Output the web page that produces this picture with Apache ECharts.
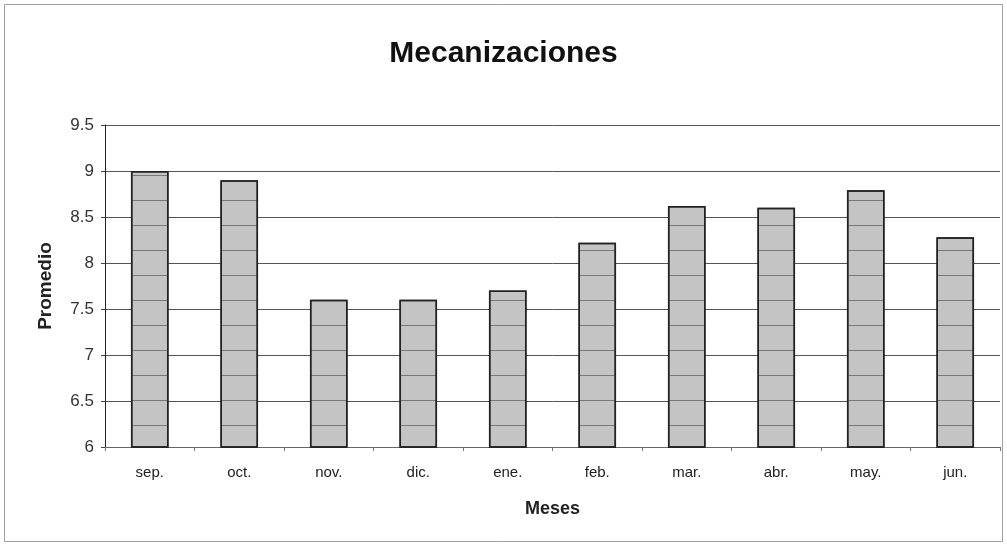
<!DOCTYPE html>
<html>
<head>
<meta charset="utf-8">
<script src="https://cdn.jsdelivr.net/npm/echarts@6/dist/echarts.min.js"></script>
<style>
  html, body { margin: 0; padding: 0; background: #ffffff; }
  #chart { width: 1007px; height: 547px; }
</style>
</head>
<body>
<div id="chart"></div>
<script>
const MONTHS = ["sep.", "oct.", "nov.", "dic.", "ene.", "feb.", "mar.", "abr.", "may.", "jun."];
const PROMEDIO = [9.0, 8.9, 7.6, 7.6, 7.7, 8.22, 8.62, 8.6, 8.79, 8.28];

const Y_MIN = 6;
const Y_MAX = 9.5;
const Y_STEP = 0.5;

const FONT = "'Liberation Sans', Arial, sans-serif";

const chart = echarts.init(document.getElementById("chart"), null, { renderer: "canvas" });

chart.setOption({
  backgroundColor: "#ffffff",
  animation: false,
  title: {
    text: "Mecanizaciones",
    left: "center",
    top: 34,
    textStyle: { fontFamily: FONT, fontSize: 30, fontWeight: "bold", color: "#111111" },
  },
  graphic: [
    {
      type: "rect",
      shape: { x: 4.5, y: 4.5, width: 998, height: 537 },
      style: { fill: "none", stroke: "#a0a0a0", lineWidth: 1 },
      silent: true,
    },
  ],
  grid: { left: 105, right: 7, top: 125, bottom: 100, containLabel: false },
  xAxis: {
    type: "category",
    data: MONTHS,
    name: "Meses",
    nameLocation: "middle",
    nameGap: 53,
    nameTextStyle: { fontFamily: FONT, fontSize: 18, fontWeight: "bold", color: "#222222" },
    axisLine: { lineStyle: { color: "#666666", width: 1 } },
    axisTick: { show: true, length: 4, lineStyle: { color: "#777777" } },
    axisLabel: { fontFamily: FONT, fontSize: 15, color: "#222222", margin: 18 },
  },
  yAxis: {
    type: "value",
    min: Y_MIN,
    max: Y_MAX,
    interval: Y_STEP,
    name: "Promedio",
    nameLocation: "middle",
    nameRotate: 90,
    nameGap: 50,
    nameTextStyle: { fontFamily: FONT, fontSize: 19, fontWeight: "bold", color: "#222222" },
    axisLine: { show: true, lineStyle: { color: "#222222", width: 1 } },
    axisTick: { show: true, length: 4, lineStyle: { color: "#444444" } },
    axisLabel: { fontFamily: FONT, fontSize: 17, color: "#333333", margin: 11 },
    splitLine: { show: true, lineStyle: { color: "#555555", width: 1 } },
  },
  series: [
    {
      name: "Promedio",
      type: "bar",
      data: PROMEDIO,
      barWidth: "42%",
      itemStyle: {
        color: "#c4c4c4",
        borderColor: "#222222",
        borderWidth: 1.5,
        decal: {
          symbol: "rect",
          symbolSize: 1,
          dashArrayX: [1, 0],
          dashArrayY: [1, 24],
          rotation: 0,
          color: "rgba(60,60,60,0.55)",
        },
      },
    },
  ],
});
</script>
</body>
</html>
